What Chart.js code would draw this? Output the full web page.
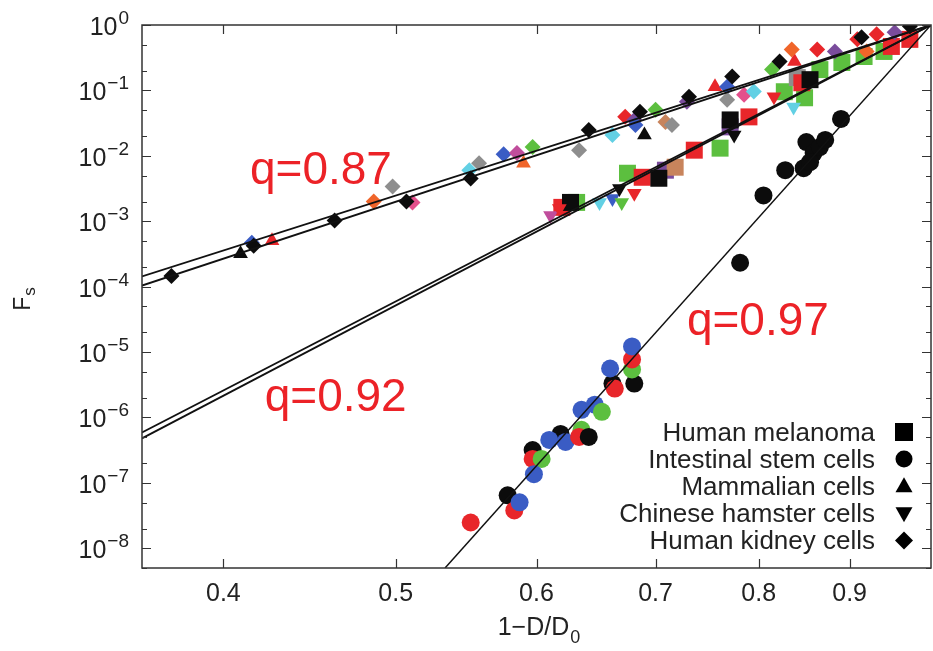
<!DOCTYPE html>
<html>
<head>
<meta charset="utf-8">
<script src="https://cdn.jsdelivr.net/npm/chart.js@4.4.1/dist/chart.umd.min.js"></script>
<style>
  html, body { margin: 0; padding: 0; background: #fff; }
</style>
</head>
<body>
<canvas id="c" width="933" height="651"></canvas>
<script>
const FONT = '"Liberation Sans", Arial, Helvetica, sans-serif';

// axis ticks
const xTicks = [0.4, 0.5, 0.6, 0.7, 0.8, 0.9];
const yExponents = [0, -1, -2, -3, -4, -5, -6, -7, -8];

// colours used for the individual experiments
const K = '#0c0c0c', R = '#e8262a', G = '#5cbf3f', B = '#3a5cc4', C = '#62d0e4',
      GR = '#8e8e8e', P = '#7a4c9c', M = '#c04d9c', O = '#f0652a', BR = '#c8845c', PK = '#e4508c';

// Human kidney cells (diamonds)
const kidneyX = [0.415, 0.486, 0.498, 0.511, 0.550, 0.557, 0.575, 0.585, 0.597, 0.634, 0.662, 0.673, 0.681, 0.682,
  0.700, 0.709, 0.715, 0.729, 0.768, 0.768, 0.785, 0.795, 0.814, 0.835, 0.863, 0.883, 0.909, 0.920, 0.932, 0.954,
  0.374, 0.416, 0.462, 0.507, 0.551, 0.642, 0.686, 0.731, 0.773, 0.822, 0.914, 0.973];
const kidneyY = [4.7e-4, 2.0e-3, 3.4e-3, 1.94e-3, 6.0e-3, 7.7e-3, 1.06e-2, 1.1e-2, 1.36e-2, 1.22e-2, 2.08e-2, 3.94e-2, 3.54e-2, 2.97e-2,
  5.05e-2, 3.3e-2, 2.97e-2, 6.7e-2, 0.114, 0.072, 0.086, 0.096, 0.208, 0.423, 0.423, 0.394, 0.603, 0.394, 0.719, 0.772,
  1.46e-4, 4.23e-4, 1.03e-3, 2.0e-3, 4.5e-3, 2.48e-2, 4.7e-2, 8.0e-2, 0.163, 0.276, 0.647, 0.955];
const kidneyC = [B, O, GR, PK, C, GR, B, M, G, GR, C, R, P, B,
  G, BR, GR, P, B, GR, PK, C, G, O, R, P, R, O, R, P,
  K, K, K, K, K, K, K, K, K, K, K, K];

// Mammalian cells (triangles)
const mammalX = [0.426, 0.590, 0.756, 0.838, 0.409, 0.690];
const mammalY = [5.05e-4, 7.7e-3, 0.114, 0.276, 3.18e-4, 2.08e-2];
const mammalC = [R, O, R, R, K, K];

// Human melanoma (squares)
const melanomaX = [0.620, 0.632, 0.675, 0.688, 0.709, 0.718, 0.736, 0.761, 0.771, 0.790, 0.827, 0.849, 0.841, 0.846,
  0.866, 0.891, 0.917, 0.941, 0.950, 0.973, 0.627, 0.703, 0.771, 0.855];
const melanomaY = [1.63e-3, 1.94e-3, 5.42e-3, 4.7e-3, 6.03e-3, 6.7e-3, 1.22e-2, 1.31e-2, 2.77e-2, 3.94e-2, 9.55e-2, 7.72e-2, 0.157, 0.131,
  0.208, 0.267, 0.330, 0.394, 0.47, 0.603, 1.94e-3, 4.54e-3, 3.54e-2, 0.146];
const melanomaC = [R, G, G, R, P, BR, R, G, P, R, G, G, GR, R,
  G, G, G, G, R, R, K, K, K, K];

// Chinese hamster cells (downward triangles)
const hamsterX = [0.611, 0.618, 0.651, 0.662, 0.670, 0.681, 0.816, 0.837, 0.668, 0.775];
const hamsterY = [1.22e-3, 1.57e-3, 1.94e-3, 2.23e-3, 1.94e-3, 2.67e-3, 8.0e-2, 5.6e-2, 3.18e-3, 2.08e-2];
const hamsterC = [M, R, C, B, G, R, R, C, K, K];

// Intestinal stem cells (circles)
const stemX = [0.551, 0.578, 0.583, 0.587, 0.597, 0.597, 0.604, 0.598, 0.619, 0.610, 0.623, 0.636, 0.634, 0.642,
  0.636, 0.647, 0.653, 0.662, 0.664, 0.660, 0.681, 0.679, 0.679, 0.679,
  0.781, 0.805, 0.828, 0.848, 0.851, 0.859, 0.866, 0.872, 0.855, 0.890];
const stemY = [2.48e-8, 6.47e-8, 3.8e-8, 5.05e-8, 3.18e-7, 2.32e-7, 2.32e-7, 1.36e-7, 5.61e-7, 4.54e-7, 4.23e-7, 6.47e-7, 5.05e-7, 5.05e-7,
  1.31e-6, 1.57e-6, 1.22e-6, 3.3e-6, 2.77e-6, 5.61e-6, 3.3e-6, 5.42e-6, 7.73e-6, 1.22e-5,
  2.32e-4, 2.48e-3, 6.03e-3, 6.47e-3, 1.62e-2, 1.1e-2, 1.36e-2, 1.75e-2, 8.0e-3, 3.67e-2];
const stemC = [R, K, R, B, K, R, G, B, K, B, B, G, R, K,
  B, B, G, K, R, B, K, G, R, B,
  K, K, K, K, K, K, K, K, K, K];

// fitted curves (straight in log-log)
const fit87aX = [0.36, 1], fit87aY = [1.43e-4, 1];
const fit87bX = [0.36, 1], fit87bY = [1.04e-4, 1];
const fit92aX = [0.36, 1], fit92aY = [5.9e-7, 1];
const fit92bX = [0.36, 1], fit92bY = [4.8e-7, 1];
const fit97X = [0.533, 1], fit97Y = [5e-9, 1];

// q labels and their anchor points
const qLabels = ['q=0.87', 'q=0.92', 'q=0.97'];
const qX = [0.414, 0.422, 0.729];
const qY = [3.7e-3, 1.25e-6, 1.84e-5];

const legendLabels = ['Human melanoma', 'Intestinal stem cells', 'Mammalian cells', 'Chinese hamster cells', 'Human kidney cells'];
const legendShapes = ['rect', 'circle', 'triangle', 'triangleDown', 'rectRot'];

const pts = (xs, ys) => xs.map((x, i) => ({ x: x, y: ys[i] }));

function fitLine(xs, ys, w) {
  return { data: pts(xs, ys), showLine: true, pointRadius: 0, borderColor: '#111', borderWidth: w, fill: false };
}

function markers(xs, ys, cs, style, r, rot) {
  return {
    data: pts(xs, ys), showLine: false, pointStyle: style, pointRadius: r, pointRotation: rot || 0,
    pointBackgroundColor: cs, pointBorderColor: cs, pointBorderWidth: 0
  };
}

function legendMarker(ctx, shape, x, y) {
  ctx.beginPath();
  if (shape === 'rect') {
    ctx.rect(x - 9, y - 9, 18, 18);
  } else if (shape === 'circle') {
    ctx.arc(x, y, 8.5, 0, Math.PI * 2);
  } else if (shape === 'triangle') {
    ctx.moveTo(x, y - 9); ctx.lineTo(x + 8.5, y + 6); ctx.lineTo(x - 8.5, y + 6);
  } else if (shape === 'triangleDown') {
    ctx.moveTo(x, y + 9); ctx.lineTo(x + 8.5, y - 6); ctx.lineTo(x - 8.5, y - 6);
  } else {
    ctx.moveTo(x, y - 9); ctx.lineTo(x + 9, y); ctx.lineTo(x, y + 9); ctx.lineTo(x - 9, y);
  }
  ctx.closePath();
  ctx.fill();
}

// frame, inward ticks, superscript y labels, axis titles, legend and q labels
const decorations = {
  id: 'decorations',
  afterDatasetsDraw(chart) {
    const { ctx, chartArea: a, scales } = chart;
    const xs = scales.x, ys = scales.y;
    ctx.save();

    ctx.strokeStyle = '#333';
    ctx.lineWidth = 1.5;
    ctx.strokeRect(a.left, a.top, a.right - a.left, a.bottom - a.top);

    ctx.lineWidth = 1.2;
    ctx.beginPath();
    xTicks.forEach(v => {
      const px = Math.round(xs.getPixelForValue(v)) + 0.5;
      ctx.moveTo(px, a.bottom); ctx.lineTo(px, a.bottom - 9);
      ctx.moveTo(px, a.top); ctx.lineTo(px, a.top + 9);
    });
    for (let e = 0; e >= -9; e--) {
      [1, 2, 5].forEach(m => {
        const v = m * Math.pow(10, e);
        if (v > ys.max * 1.0001 || v < ys.min) return;
        const py = Math.round(ys.getPixelForValue(v)) + 0.5;
        const len = m === 1 ? 9 : 5;
        ctx.moveTo(a.left, py); ctx.lineTo(a.left + len, py);
        ctx.moveTo(a.right, py); ctx.lineTo(a.right - len, py);
      });
    }
    ctx.stroke();

    // y tick labels as 10 with a raised exponent
    ctx.fillStyle = '#222';
    ctx.textBaseline = 'alphabetic';
    ctx.textAlign = 'left';
    yExponents.forEach(e => {
      const py = ys.getPixelForValue(Math.pow(10, e));
      const sup = e === 0 ? '0' : '\u2212' + (-e);
      ctx.font = '19px ' + FONT;
      const sw = ctx.measureText(sup).width;
      ctx.font = '25px ' + FONT;
      const tw = ctx.measureText('10').width;
      const right = a.left - 13;
      ctx.fillText('10', right - sw - tw - 1, py + 10);
      ctx.font = '19px ' + FONT;
      ctx.fillText(sup, right - sw, py - 1);
    });

    // x axis title
    ctx.font = '25px ' + FONT;
    const mainT = '1\u2212D/D';
    const mw = ctx.measureText(mainT).width;
    ctx.font = '18px ' + FONT;
    const subW = ctx.measureText('0').width;
    const x0 = (a.left + a.right) / 2 - (mw + subW) / 2 + 2;
    ctx.font = '25px ' + FONT;
    ctx.fillText(mainT, x0, 635);
    ctx.font = '18px ' + FONT;
    ctx.fillText('0', x0 + mw + 1, 643);

    // y axis title
    ctx.save();
    ctx.translate(30, (a.top + a.bottom) / 2 + 3);
    ctx.rotate(-Math.PI / 2);
    ctx.font = '23px ' + FONT;
    const fw = ctx.measureText('F').width;
    ctx.font = '17px ' + FONT;
    const swd = ctx.measureText('s').width;
    const fx = -(fw + swd) / 2;
    ctx.font = '23px ' + FONT;
    ctx.fillText('F', fx, 0);
    ctx.font = '17px ' + FONT;
    ctx.fillText('s', fx + fw + 1, 5);
    ctx.restore();

    // legend
    ctx.font = '26px ' + FONT;
    ctx.textAlign = 'right';
    legendLabels.forEach((t, i) => {
      const cy = a.bottom - 136 + i * 27.1;
      ctx.fillStyle = '#222';
      ctx.fillText(t, a.right - 56, cy + 9);
      ctx.fillStyle = '#000';
      legendMarker(ctx, legendShapes[i], a.right - 27, cy);
    });

    // q labels
    ctx.fillStyle = '#ec2227';
    ctx.font = '46px ' + FONT;
    ctx.textAlign = 'left';
    qLabels.forEach((t, i) => {
      ctx.fillText(t, xs.getPixelForValue(qX[i]), ys.getPixelForValue(qY[i]));
    });

    ctx.restore();
  }
};

new Chart(document.getElementById('c'), {
  type: 'scatter',
  data: {
    datasets: [
      fitLine(fit87aX, fit87aY, 1.8),
      fitLine(fit87bX, fit87bY, 1.8),
      fitLine(fit92aX, fit92aY, 1.8),
      fitLine(fit92bX, fit92bY, 1.8),
      fitLine(fit97X, fit97Y, 1.5),
      markers(kidneyX, kidneyY, kidneyC, 'rectRot', 8),
      markers(mammalX, mammalY, mammalC, 'triangle', 8.5),
      markers(hamsterX, hamsterY, hamsterC, 'triangle', 8.5, 180),
      markers(melanomaX, melanomaY, melanomaC, 'rect', 12),
      markers(stemX, stemY, stemC, 'circle', 9),
    ]
  },
  options: {
    responsive: false,
    animation: false,
    events: [],
    layout: { autoPadding: false, padding: { top: 25, right: 2, left: 0, bottom: 0 } },
    plugins: { legend: { display: false }, tooltip: { enabled: false } },
    scales: {
      x: {
        type: 'logarithmic',
        min: 0.36,
        max: 1,
        grid: { display: false, drawTicks: false },
        border: { display: false },
        afterBuildTicks: s => { s.ticks = xTicks.map(v => ({ value: v })); },
        afterFit: s => { s.height = 83; s.paddingLeft = 0; s.paddingRight = 0; },
        ticks: {
          autoSkip: false,
          maxRotation: 0,
          padding: 11,
          color: '#222',
          font: { family: FONT, size: 25 },
          callback: v => Number(v).toFixed(1)
        }
      },
      y: {
        type: 'logarithmic',
        min: 5e-9,
        max: 1,
        grid: { display: false, drawTicks: false },
        border: { display: false },
        ticks: { display: false },
        afterFit: s => { s.width = 142; s.paddingTop = 0; s.paddingBottom = 0; }
      }
    }
  },
  plugins: [decorations]
});
</script>
</body>
</html>
